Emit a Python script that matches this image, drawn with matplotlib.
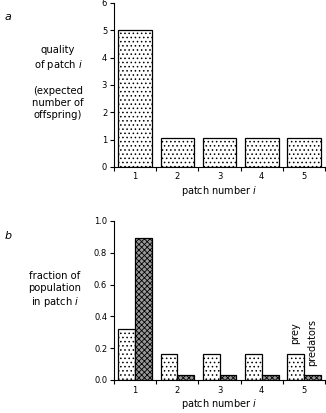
import matplotlib
matplotlib.use('Agg')
import matplotlib.pyplot as plt
import numpy as np

patches = [1, 2, 3, 4, 5]
quality = [5.0, 1.05, 1.05, 1.05, 1.05]
prey = [0.32, 0.165, 0.165, 0.165, 0.165]
predators = [0.89, 0.03, 0.03, 0.03, 0.03]

plt.rcParams['font.family'] = 'DejaVu Sans'
plt.rcParams['hatch.linewidth'] = 0.6

fig = plt.figure(figsize=(3.26, 4.13), dpi=100)
ax1 = fig.add_axes([0.350, 0.596, 0.647, 0.397])
ax2 = fig.add_axes([0.350, 0.080, 0.647, 0.385])

x = np.array(patches)


def style(ax):
    ax.spines['top'].set_visible(False)
    ax.spines['right'].set_visible(False)
    ax.set_xlim(0.5, 5.5)
    ax.set_xticks(x)
    ax.set_xticks(np.arange(0.5, 6.0, 1.0), minor=True)
    ax.tick_params(axis='x', which='major', length=0, labelsize=6, pad=4)
    ax.tick_params(axis='x', which='minor', length=3, width=0.8, direction='out')
    ax.tick_params(axis='y', length=3, width=0.8, labelsize=6, pad=2)
    ax.set_xlabel('patch number $i$', fontsize=7, labelpad=2)


ax1.bar(x, quality, width=0.8, facecolor='white', edgecolor='black',
        linewidth=0.9, hatch='....')
ax1.set_ylim(0, 6)
ax1.set_yticks(range(0, 7))
style(ax1)
fig.text(0.178, 0.80, 'quality\nof patch $i$\n\n(expected\nnumber of\noffspring)',
         ha='center', va='center', fontsize=7.2, linespacing=1.25)
fig.text(0.015, 0.958, 'a', fontsize=8, style='italic', ha='left', va='center')

ax2.bar(x - 0.2, prey, width=0.4, facecolor='white', edgecolor='black',
        linewidth=0.9, hatch='....')
ax2.bar(x + 0.2, predators, width=0.4, facecolor='0.6', edgecolor='black',
        linewidth=0.9, hatch='xxxxxx')
ax2.set_ylim(0, 1.0)
ax2.set_yticks(np.arange(0, 1.01, 0.2))
ax2.set_yticklabels(['0.0', '0.2', '0.4', '0.6', '0.8', '1.0'])
style(ax2)
ax2.text(5 - 0.2, prey[4] + 0.06, 'prey', rotation=90, ha='center', va='bottom', fontsize=7)
ax2.text(5 + 0.2, predators[4] + 0.055, 'predators', rotation=90, ha='center', va='bottom', fontsize=7)
fig.text(0.168, 0.298, 'fraction of\npopulation\nin patch $i$',
         ha='center', va='center', fontsize=7.2, linespacing=1.25)
fig.text(0.015, 0.428, 'b', fontsize=8, style='italic', ha='left', va='center')

fig.savefig('out.png', dpi=100)
